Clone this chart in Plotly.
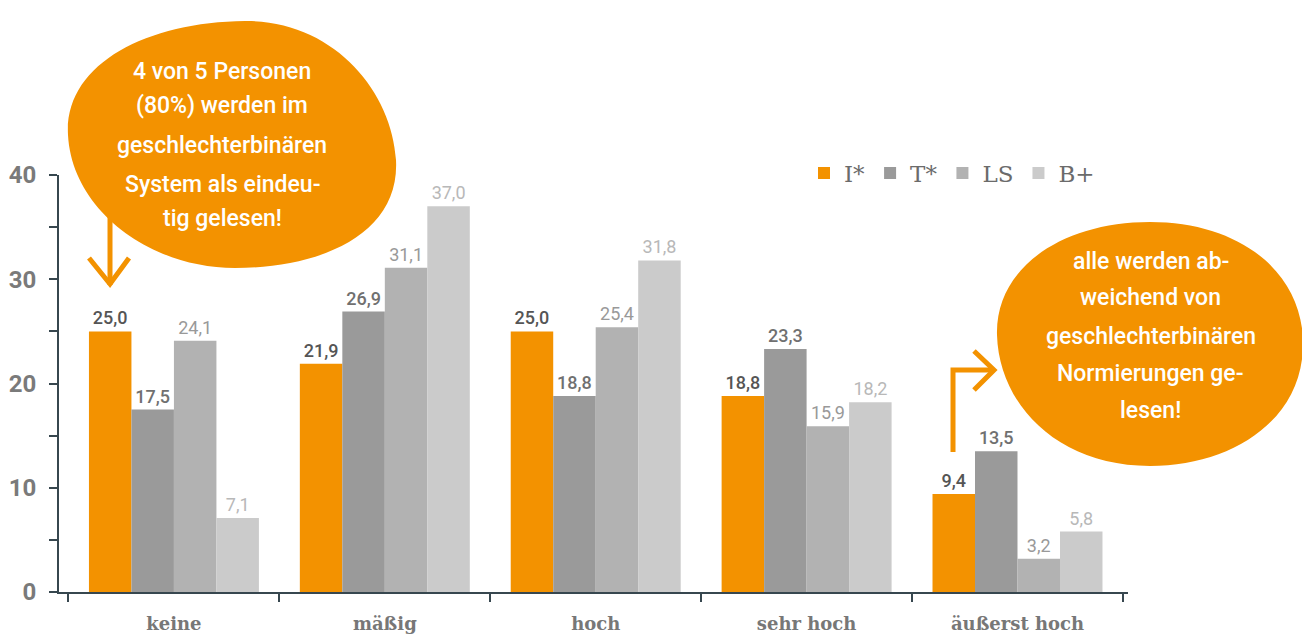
import plotly.graph_objects as go

categories = ["keine", "mäßig", "hoch", "sehr hoch", "äußerst hoch"]
series_names = ["I*", "T*", "LS", "B+"]
values_I = [25.0, 21.9, 25.0, 18.8, 9.4]
values_T = [17.5, 26.9, 18.8, 23.3, 13.5]
values_LS = [24.1, 31.1, 25.4, 15.9, 3.2]
values_B = [7.1, 37.0, 31.8, 18.2, 5.8]
y_ticks = [0, 10, 20, 30, 40]

bubble1_lines = ["4 von 5 Personen", "(80%) werden im", "geschlechterbinären",
                 "System als eindeu-", "tig gelesen!"]
bubble2_lines = ["alle werden ab-", "weichend von", "geschlechterbinären",
                 "Normierungen ge-", "lesen!"]

bar_colors = ["#F39200", "#9a9a9a", "#b2b2b2", "#cbcbcb"]
label_colors = ["#555555", "#707070", "#999999", "#b8b8b8"]
ORANGE = "#F39200"

W, H = 1302, 637
L, R, T, B = 59, 1128, 175, 592


def xp(px):
    return (px - L) / (R - L)


def yp(py):
    return (B - py) / (B - T)


def fmt(v):
    return f"{v:.1f}".replace(".", ",")


def path(cmds):
    out = []
    for c in cmds:
        if c[0] == "Z":
            out.append("Z")
            continue
        letter, pts = c[0], c[1:]
        s = " ".join(f"{xp(x):.5f},{yp(y):.5f}" for x, y in pts)
        out.append(f"{letter} {s}")
    return " ".join(out)


fig = go.Figure()
all_vals = [values_I, values_T, values_LS, values_B]
for i, (name, vals, col, lcol) in enumerate(zip(series_names, all_vals, bar_colors, label_colors)):
    fig.add_trace(go.Bar(
        name=name, x=categories, y=vals, marker=dict(color=col, line=dict(width=0)),
        text=[fmt(v) for v in vals], textposition="outside",
        textfont=dict(family="Roboto", size=18, color=lcol, weight=500 if i < 2 else 400),
        cliponaxis=False, hoverinfo="skip",
    ))

shapes = []
# bubble 1
shapes.append(dict(type="path", xref="paper", yref="paper", layer="above",
                   fillcolor=ORANGE, line=dict(width=0),
                   path=path([("M", (68, 135)),
                              ("C", (64, 65), (145, 22), (245, 21)),
                              ("C", (332, 20), (392, 90), (396, 160)),
                              ("C", (400, 235), (320, 268), (235, 268)),
                              ("C", (150, 268), (72, 210), (68, 135)),
                              ("Z",)])))
# bubble 2
shapes.append(dict(type="path", xref="paper", yref="paper", layer="above",
                   fillcolor=ORANGE, line=dict(width=0),
                   path=path([("M", (997, 335)),
                              ("C", (995, 268), (1062, 222), (1150, 222)),
                              ("C", (1240, 222), (1302, 272), (1303, 342)),
                              ("C", (1304, 420), (1232, 466), (1150, 466)),
                              ("C", (1058, 466), (999, 405), (997, 335)),
                              ("Z",)])))
# arrow 1
shapes.append(dict(type="path", xref="paper", yref="paper", layer="above",
                   line=dict(color=ORANGE, width=5),
                   path=path([("M", (110, 205)), ("L", (110, 285))])))
shapes.append(dict(type="path", xref="paper", yref="paper", layer="above",
                   line=dict(color=ORANGE, width=5),
                   path=path([("M", (89, 258)), ("L", (110, 284)), ("L", (129, 258))])))
# arrow 2
shapes.append(dict(type="path", xref="paper", yref="paper", layer="above",
                   line=dict(color=ORANGE, width=5),
                   path=path([("M", (953, 452)), ("L", (953, 370)), ("L", (993, 370))])))
shapes.append(dict(type="path", xref="paper", yref="paper", layer="above",
                   line=dict(color=ORANGE, width=5),
                   path=path([("M", (974, 351)), ("L", (994, 370)), ("L", (974, 390))])))

annotations = []
for line, py in zip(bubble1_lines, [72, 106, 145, 184, 218]):
    annotations.append(dict(text=line, x=xp(222), y=yp(py), xref="paper", yref="paper",
                            showarrow=False, xanchor="center", yanchor="middle",
                            font=dict(family="Roboto", size=23, color="white", weight=500)))
for line, py in zip(bubble2_lines, [261, 297, 336, 373, 410]):
    annotations.append(dict(text=line, x=xp(1151), y=yp(py), xref="paper", yref="paper",
                            showarrow=False, xanchor="center", yanchor="middle",
                            font=dict(family="Roboto", size=23, color="white", weight=500)))

fig.update_layout(
    width=W, height=H,
    margin=dict(l=L, r=W - R, t=T, b=H - B, pad=0, autoexpand=False),
    paper_bgcolor="white", plot_bgcolor="white",
    barmode="group", bargap=0.194, bargroupgap=0,
    showlegend=True,
    legend=dict(orientation="h", x=xp(804), y=yp(173), xanchor="left", yanchor="middle",
                font=dict(family="DejaVu Serif", size=23, color="#6b6b6b"),
                itemwidth=30, traceorder="normal", bgcolor="rgba(0,0,0,0)"),
    shapes=shapes, annotations=annotations,
    xaxis=dict(type="category", range=[-0.545, 4.524], tickson="boundaries",
               ticks="outside", ticklen=8, tickwidth=2, tickcolor="#37474f",
               showline=True, linecolor="#37474f", linewidth=2, showgrid=False,
               automargin=False, ticklabelstandoff=14,
               tickfont=dict(family="DejaVu Serif", size=18, color="#777777", weight="bold")),
    yaxis=dict(range=[0, 40], tickvals=y_ticks, ticks="outside", ticklen=8, tickwidth=2,
               tickcolor="#37474f", showline=True, linecolor="#37474f", linewidth=2,
               showgrid=False, zeroline=False, automargin=False, ticklabelstandoff=8,
               minor=dict(dtick=5, tick0=0, ticks="outside", ticklen=8, tickwidth=2,
                          tickcolor="#37474f", showgrid=False),
               tickfont=dict(family="Roboto", size=24, color="#7a7a7a", weight="bold")),
)

fig.write_html("out.html", config={"displayModeBar": False},
               post_script="document.body.style.margin='0';document.body.style.overflow='hidden';")
